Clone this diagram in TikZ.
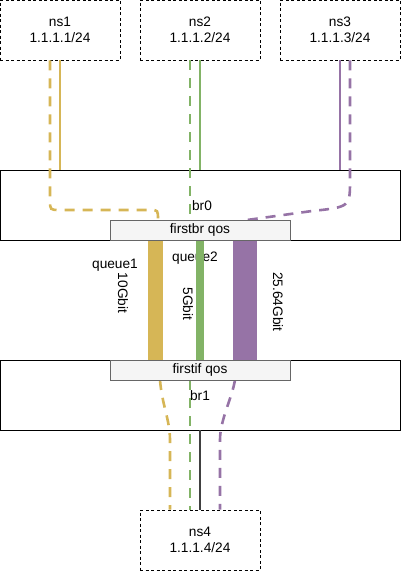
\documentclass[tikz,border=0pt]{standalone}
\usepackage{fontspec}
\setmainfont{Liberation Sans}
\usetikzlibrary{calc}
\definecolor{cyel}{HTML}{D6B656}
\definecolor{cgrn}{HTML}{82B366}
\definecolor{cpur}{HTML}{9673A6}
\definecolor{qfill}{HTML}{F5F5F5}
\definecolor{qdraw}{HTML}{666666}
\tikzset{
  txt/.style={font=\fontsize{13.7}{16}\selectfont, inner sep=0pt},
  nsbox/.style={draw, dash pattern=on 3pt off 2.5pt, line width=0.8pt, minimum width=120pt, minimum height=60pt, align=center, txt},
  brbox/.style={draw, line width=0.9pt, minimum width=400pt, minimum height=70pt},
  qosbox/.style={draw=qdraw, fill=qfill, line width=0.9pt, minimum width=180pt, minimum height=20pt, txt},
  qbar/.style={minimum height=120pt, inner sep=0pt, draw=none},
  sline/.style={line width=1.4pt},
  dline/.style={line width=2.6pt, dash pattern=on 10pt off 8pt},
}
\begin{document}
\begin{tikzpicture}[x=1pt,y=-1pt]
\useasboundingbox (0,0) rectangle (401,571);
% namespaces
\node[nsbox] (ns1) at (60,30) {ns1\\1.1.1.1/24};
\node[nsbox] (ns2) at (200,30) {ns2\\1.1.1.2/24};
\node[nsbox] (ns3) at (340,30) {ns3\\1.1.1.3/24};
\node[nsbox] (ns4) at (200,540) {ns4\\1.1.1.4/24};
% bridges
\node[brbox] (br0) at (200,205) {};
\node[brbox] (br1) at (200,395) {};
\node[txt] (lbr0) at (202,206) {br0};
\node[txt] (lbr1) at (200,396) {br1};
% solid lines into br0
\draw[sline, cyel] (ns1.south) -- (ns1.south |- br0.north);
\draw[sline, cgrn] (ns2.south) -- (ns2.south |- br0.north);
\draw[sline, cpur] (ns3.south) -- (ns3.south |- br0.north);
% dashed lines in upper part
\draw[dline, cyel] ([xshift=-10pt]ns1.south) -- (50,200) .. controls (50,210) .. (60,210) -- (150,210) .. controls (158,210) .. (158,220);
\draw[dline, cgrn] ([xshift=-10pt]ns2.south) -- (190,220);
\draw[dline, cpur] ([xshift=10pt]ns3.south) -- (350,180) .. controls (350,207) .. (312,211) -- (247,220);
% labels for queues (below bars)
\node[txt] (q1) at (115,265) {queue1};
\node[txt] (q2) at (195,258) {queue2};
% bars
\node[qbar, fill=cyel, minimum width=15pt] (b1) at (155.5,300) {};
\node[qbar, fill=cgrn, minimum width=8pt] (b2) at (200,300) {};
\node[qbar, fill=cpur, minimum width=24pt] (b3) at (245,300) {};
\node[txt, rotate=-90] (r1) at (123,293) {10Gbit};
\node[txt, rotate=-90] (r2) at (188,304) {5Gbit};
\node[txt, rotate=-90] (r3) at (278,302) {25.64Gbit};
% lower dashed lines
\draw[dline, cyel] (160,380) .. controls (162,405) and (170,420) .. (170,440) -- (ns4.north -| 170,0);
\draw[dline, cgrn] (190,380) -- (ns4.north -| 190,0);
\draw[dline, cpur] (235,380) .. controls (232,398) and (220,420) .. (220,440) -- (ns4.north -| 220,0);
\draw[line width=1.4pt, black!75] (br1.south -| ns4.north) -- (ns4.north);
% qos boxes
\node[qosbox] (qos0) at (200,230) {firstbr qos};
\node[qosbox] (qos1) at (200,370) {firstif qos};
\end{tikzpicture}
\end{document}
